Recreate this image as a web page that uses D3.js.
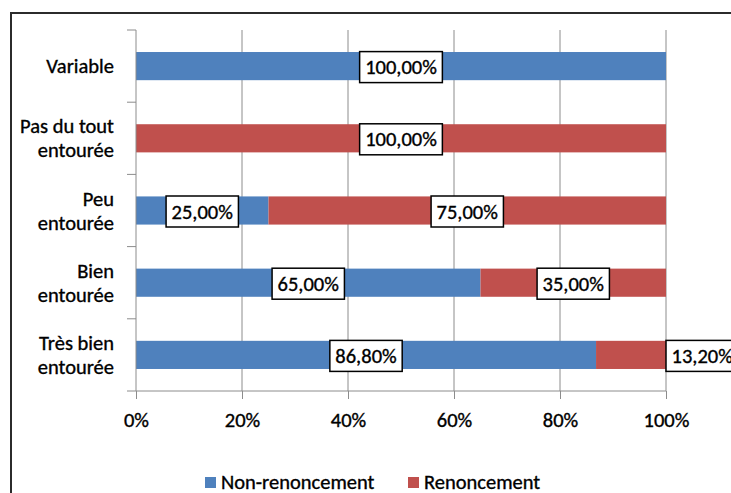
<!DOCTYPE html>
<html>
<head>
<meta charset="utf-8">
<script src="https://cdnjs.cloudflare.com/ajax/libs/d3/7.8.5/d3.min.js"></script>
<style>
  body { margin: 0; background: #fff; }
  svg text { font-family: Calibri, Lato, "Open Sans", sans-serif; fill: #000; stroke: #000; stroke-width: 0.35px; }
</style>
</head>
<body>
<div id="chart"></div>
<script>
var categories = ["Variable", "Pas du tout entourée", "Peu entourée", "Bien entourée", "Très bien entourée"];
var catLines = [["Variable"], ["Pas du tout", "entourée"], ["Peu", "entourée"], ["Bien", "entourée"], ["Très bien", "entourée"]];
var nonRenoncement = [100, 0, 25, 65, 86.8];
var renoncement = [0, 100, 75, 35, 13.2];
var seriesNames = ["Non-renoncement", "Renoncement"];
var colors = ["#4F81BD", "#C0504D"];
var xTicks = [0, 20, 40, 60, 80, 100];

var width = 731, height = 493, fs = 20.5;
var plot = {left: 136, right: 666, top: 30, bottom: 391};

var svg = d3.select("#chart").append("svg")
    .attr("width", width)
    .attr("height", height);

// chart frame
svg.append("rect")
    .attr("x", 11).attr("y", 13)
    .attr("width", 740).attr("height", 500)
    .attr("fill", "none")
    .attr("stroke", "#2b2b2b")
    .attr("stroke-width", 2);

var x = d3.scaleLinear().domain([0, 100]).range([plot.left, plot.right]);
var y = d3.scaleBand().domain(categories).range([plot.top, plot.bottom]).paddingInner(0.61).paddingOuter(0.305);
var yBand = d3.scaleBand().domain(categories).range([plot.top, plot.bottom]);

// vertical gridlines
svg.append("g").selectAll("line")
    .data(xTicks.slice(1))
    .enter().append("line")
    .attr("x1", function(d) { return x(d); })
    .attr("x2", function(d) { return x(d); })
    .attr("y1", plot.top).attr("y2", plot.bottom)
    .attr("stroke", "#8c8c8c").attr("stroke-width", 1);

// stacked data
var rows = categories.map(function(c, i) {
  return {cat: c, values: [nonRenoncement[i], renoncement[i]]};
});

var segs = [];
rows.forEach(function(r) {
  var x0 = 0;
  r.values.forEach(function(v, s) {
    if (v > 0) segs.push({cat: r.cat, s: s, x0: x0, x1: x0 + v, v: v});
    x0 += v;
  });
});

svg.append("g").selectAll("rect")
    .data(segs)
    .enter().append("rect")
    .attr("x", function(d) { return x(d.x0); })
    .attr("y", function(d) { return y(d.cat); })
    .attr("width", function(d) { return x(d.x1) - x(d.x0); })
    .attr("height", y.bandwidth())
    .attr("fill", function(d) { return colors[d.s]; });

// axes
var xAxis = svg.append("g")
    .attr("transform", "translate(0," + plot.bottom + ")")
    .call(d3.axisBottom(x).tickValues(xTicks).tickSize(8).tickPadding(13)
      .tickFormat(function(d) { return d + "%"; }));
xAxis.select(".domain").attr("stroke", "#8c8c8c").attr("d", "M" + plot.left + ",0H" + plot.right);
xAxis.selectAll(".tick line").attr("stroke", "#8c8c8c");
xAxis.selectAll("text").attr("font-size", fs).attr("font-family", null).attr("fill", null);

var yAxis = svg.append("g")
    .attr("transform", "translate(" + plot.left + ",0)");
yAxis.append("line")
    .attr("y1", plot.top).attr("y2", plot.bottom)
    .attr("stroke", "#8c8c8c");
yAxis.selectAll(".tk")
    .data(categories.concat(["end"]))
    .enter().append("line")
    .attr("x1", -9).attr("x2", 0)
    .attr("y1", function(d, i) { return i < categories.length ? yBand(d) : plot.bottom; })
    .attr("y2", function(d, i) { return i < categories.length ? yBand(d) : plot.bottom; })
    .attr("stroke", "#8c8c8c");

var catLabel = svg.append("g").selectAll("text")
    .data(categories)
    .enter().append("text")
    .attr("text-anchor", "end")
    .attr("font-size", fs)
    .attr("y", function(d) { return yBand(d) + yBand.bandwidth() / 2; });
catLabel.each(function(d, i) {
  var lines = catLines[i], t = d3.select(this);
  lines.forEach(function(l, j) {
    t.append("tspan")
      .attr("x", 114)
      .attr("dy", j === 0 ? ((-(lines.length - 1) * 12) + 7) : 24)
      .text(l);
  });
});

// data labels
var fmt = function(v) { return v.toFixed(2).replace(".", ",") + "%"; };
var lab = svg.append("g").selectAll("g")
    .data(segs)
    .enter().append("g");
lab.each(function(d) {
  var g = d3.select(this);
  var t = g.append("text")
      .attr("font-size", fs)
      .attr("text-anchor", "middle")
      .text(fmt(d.v));
  var w = t.node().getComputedTextLength() + 11, h = 31;
  var segW = x(d.x1) - x(d.x0);
  var cx = segW < w ? x(d.x1) + w / 2 : (x(d.x0) + x(d.x1)) / 2;
  var cy = y(d.cat) + y.bandwidth() / 2;
  g.insert("rect", "text")
    .attr("x", cx - w / 2).attr("y", cy - h / 2 + 1)
    .attr("width", w).attr("height", h)
    .attr("fill", "#fff").attr("stroke", "#000").attr("stroke-width", 1.5);
  t.attr("x", cx).attr("y", cy + 8);
});

// legend
var legX = [205, 408];
var leg = svg.append("g").selectAll("g")
    .data(seriesNames)
    .enter().append("g")
    .attr("transform", function(d, i) { return "translate(" + legX[i] + ",482)"; });
leg.append("rect")
    .attr("x", 0).attr("y", -5).attr("width", 11).attr("height", 11)
    .attr("fill", function(d, i) { return colors[i]; });
leg.append("text")
    .attr("x", 16).attr("y", 7)
    .attr("font-size", fs)
    .text(function(d) { return d; });
</script>
</body>
</html>
